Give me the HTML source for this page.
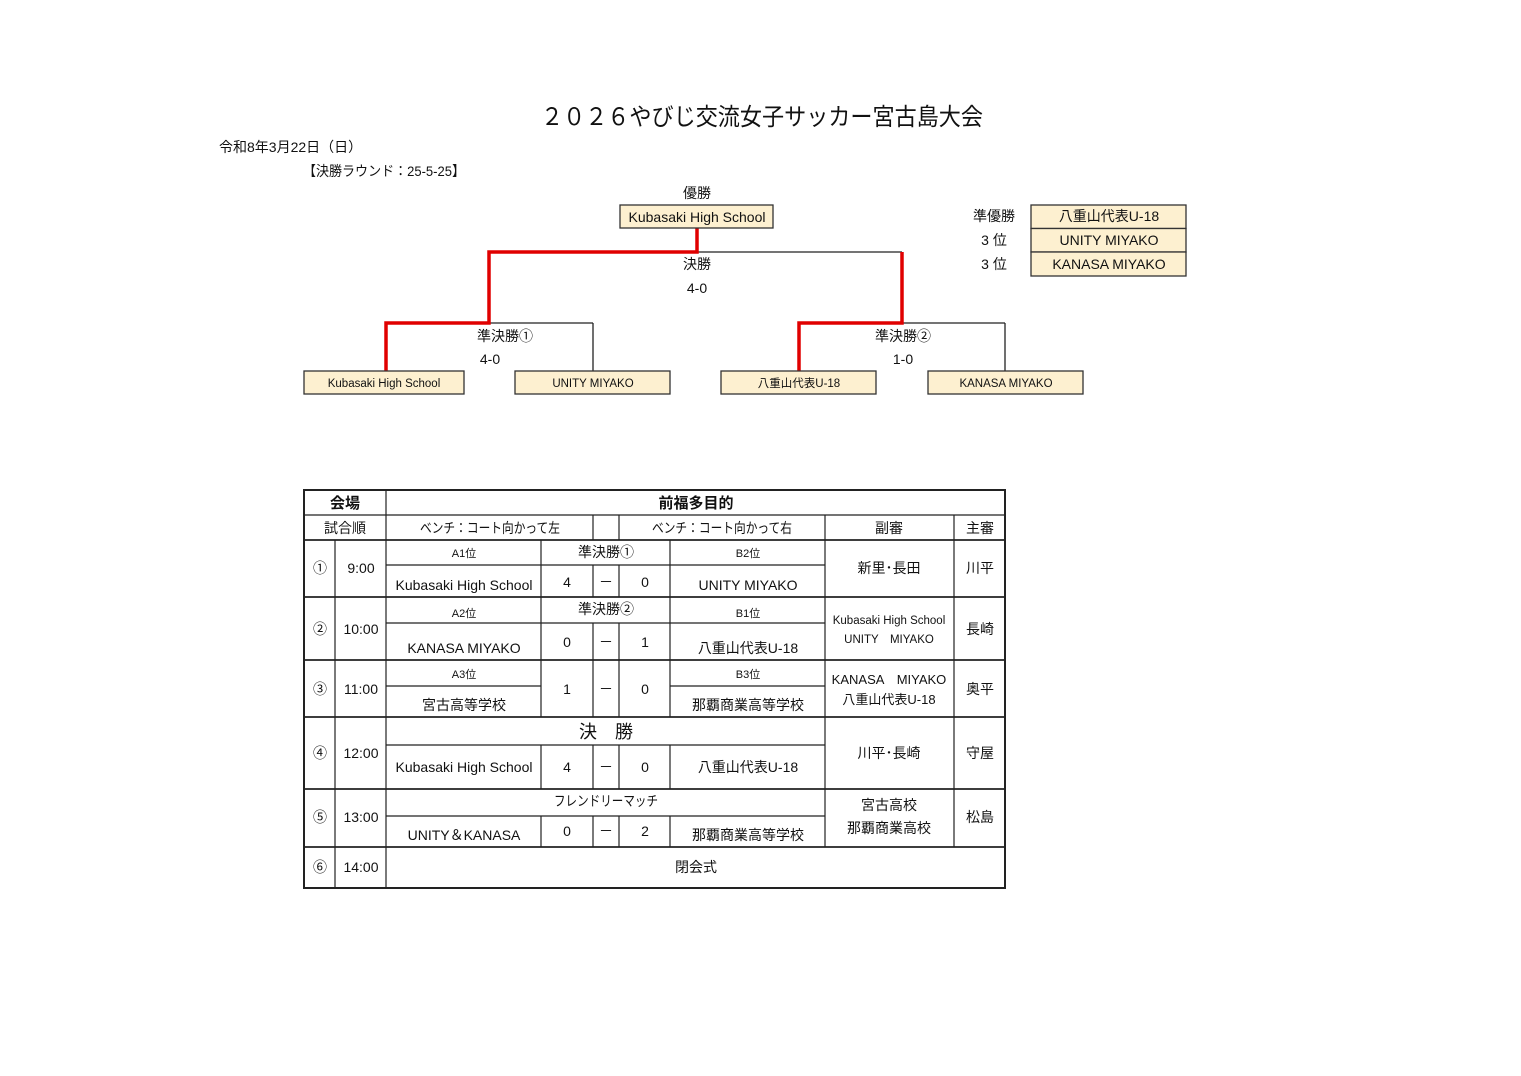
<!DOCTYPE html>
<html><head><meta charset="utf-8"><style>
html,body{margin:0;padding:0;background:#fff;width:1521px;height:1076px;overflow:hidden}
svg text{font-family:"Liberation Sans","Noto Sans CJK JP",sans-serif;fill:#111}
</style></head><body>
<svg width="1521" height="1076" viewBox="0 0 1521 1076" xmlns="http://www.w3.org/2000/svg">
<text x="541" y="125" font-size="24" textLength="442" lengthAdjust="spacingAndGlyphs">２０２６やびじ交流女子サッカー宮古島大会</text>
<text x="219" y="152" font-size="14">令和8年3月22日（日）</text>
<text x="303" y="176" font-size="14" textLength="162" lengthAdjust="spacingAndGlyphs">【決勝ラウンド：25-5-25】</text>

<g stroke="#222" stroke-width="1.3" fill="none">
<line x1="697" y1="252" x2="902" y2="252"/>
<line x1="489" y1="323" x2="593" y2="323"/>
<line x1="593" y1="323" x2="593" y2="371"/>
<line x1="902" y1="323" x2="1005" y2="323"/>
<line x1="1005" y1="323" x2="1005" y2="371"/>
</g>
<g stroke="#e00000" stroke-width="3.5" fill="none">
<polyline points="697,228 697,252 489,252 489,323 386,323 386,371"/>
<polyline points="902,252 902,323 799,323 799,371"/>
</g>
<g fill="#fdf0d0" stroke="#333" stroke-width="1.3">
<rect x="620" y="205" width="153" height="23"/>
<rect x="304" y="371" width="160" height="23"/>
<rect x="515" y="371" width="155" height="23"/>
<rect x="721" y="371" width="155" height="23"/>
<rect x="928" y="371" width="155" height="23"/>
<rect x="1031" y="205" width="155" height="23.5"/>
<rect x="1031" y="228.5" width="155" height="23.5"/>
<rect x="1031" y="252" width="155" height="24"/>
</g>
<g font-size="14" text-anchor="middle">
<text x="697" y="198">優勝</text>
<text x="697" y="222">Kubasaki High School</text>
<text x="697" y="269">決勝</text>
<text x="697" y="293">4-0</text>
<text x="505" y="341">準決勝①</text>
<text x="490" y="364">4-0</text>
<text x="903" y="341">準決勝②</text>
<text x="903" y="364">1-0</text>
<text x="994" y="221">準優勝</text>
<text x="994" y="245">3 位</text>
<text x="994" y="269">3 位</text>
<text x="1109" y="221">八重山代表U-18</text>
<text x="1109" y="245">UNITY MIYAKO</text>
<text x="1109" y="269">KANASA MIYAKO</text>
</g>
<g font-size="11.5" text-anchor="middle">
<text x="384" y="387">Kubasaki High School</text>
<text x="593" y="387">UNITY MIYAKO</text>
<text x="799" y="387">八重山代表U-18</text>
<text x="1006" y="387">KANASA MIYAKO</text>
</g>

<g stroke="#222" stroke-width="1.2" fill="none">
<rect x="304" y="490" width="701" height="398" stroke-width="2"/>
<line x1="304" y1="515" x2="1005" y2="515"/>
<line x1="304" y1="540" x2="1005" y2="540" stroke-width="1.8"/>
<line x1="304" y1="597" x2="1005" y2="597" stroke-width="1.8"/>
<line x1="304" y1="660" x2="1005" y2="660" stroke-width="1.8"/>
<line x1="304" y1="717" x2="1005" y2="717" stroke-width="1.8"/>
<line x1="304" y1="789" x2="1005" y2="789" stroke-width="1.8"/>
<line x1="304" y1="847" x2="1005" y2="847" stroke-width="1.8"/>
<line x1="386" y1="490" x2="386" y2="888"/>
<line x1="335" y1="540" x2="335" y2="888"/>
<line x1="825" y1="515" x2="825" y2="847"/>
<line x1="954" y1="515" x2="954" y2="847"/>
<line x1="593" y1="515" x2="593" y2="540"/>
<line x1="619" y1="515" x2="619" y2="540"/>
<line x1="386" y1="565" x2="825" y2="565"/>
<line x1="541" y1="540" x2="541" y2="597"/>
<line x1="670" y1="540" x2="670" y2="597"/>
<line x1="593" y1="565" x2="593" y2="597"/>
<line x1="619" y1="565" x2="619" y2="597"/>
<line x1="386" y1="623" x2="825" y2="623"/>
<line x1="541" y1="597" x2="541" y2="660"/>
<line x1="670" y1="597" x2="670" y2="660"/>
<line x1="593" y1="623" x2="593" y2="660"/>
<line x1="619" y1="623" x2="619" y2="660"/>
<line x1="386" y1="686" x2="541" y2="686"/>
<line x1="670" y1="686" x2="825" y2="686"/>
<line x1="541" y1="660" x2="541" y2="717"/>
<line x1="670" y1="660" x2="670" y2="717"/>
<line x1="593" y1="660" x2="593" y2="717"/>
<line x1="619" y1="660" x2="619" y2="717"/>
<line x1="386" y1="745" x2="825" y2="745"/>
<line x1="541" y1="745" x2="541" y2="789"/>
<line x1="593" y1="745" x2="593" y2="789"/>
<line x1="619" y1="745" x2="619" y2="789"/>
<line x1="670" y1="745" x2="670" y2="789"/>
<line x1="386" y1="816" x2="825" y2="816"/>
<line x1="541" y1="816" x2="541" y2="847"/>
<line x1="593" y1="816" x2="593" y2="847"/>
<line x1="619" y1="816" x2="619" y2="847"/>
<line x1="670" y1="816" x2="670" y2="847"/>
</g>
<g font-size="14" text-anchor="middle">
<text x="345" y="508" font-weight="bold" font-size="15">会場</text>
<text x="696" y="508" font-weight="bold" font-size="15">前福多目的</text>
<text x="345" y="533">試合順</text>
<text x="490" y="533" textLength="140" lengthAdjust="spacingAndGlyphs">ベンチ：コート向かって左</text>
<text x="722" y="533" textLength="140" lengthAdjust="spacingAndGlyphs">ベンチ：コート向かって右</text>
<text x="889" y="533">副審</text>
<text x="980" y="533">主審</text>

<text x="320" y="573">①</text><text x="361" y="573">9:00</text>
<text x="464" y="557" font-size="11">A1位</text>
<text x="606" y="557">準決勝①</text>
<text x="748" y="557" font-size="11">B2位</text>
<text x="464" y="590">Kubasaki High School</text>
<text x="567" y="587">4</text><text x="606" y="587">－</text><text x="645" y="587">0</text>
<text x="748" y="590">UNITY MIYAKO</text>
<text x="889" y="573">新里･長田</text>
<text x="980" y="573">川平</text>

<text x="320" y="634">②</text><text x="361" y="634">10:00</text>
<text x="464" y="617" font-size="11">A2位</text>
<text x="606" y="614">準決勝②</text>
<text x="748" y="617" font-size="11">B1位</text>
<text x="464" y="653">KANASA MIYAKO</text>
<text x="567" y="647">0</text><text x="606" y="647">－</text><text x="645" y="647">1</text>
<text x="748" y="653">八重山代表U-18</text>
<text x="889" y="624" font-size="11.5">Kubasaki High School</text>
<text x="889" y="643" font-size="11.5">UNITY　MIYAKO</text>
<text x="980" y="634">長崎</text>

<text x="320" y="694">③</text><text x="361" y="694">11:00</text>
<text x="464" y="678" font-size="11">A3位</text>
<text x="748" y="678" font-size="11">B3位</text>
<text x="464" y="710">宮古高等学校</text>
<text x="567" y="694">1</text><text x="606" y="694">－</text><text x="645" y="694">0</text>
<text x="748" y="710">那覇商業高等学校</text>
<text x="889" y="684" font-size="13">KANASA　MIYAKO</text>
<text x="889" y="704" font-size="13">八重山代表U-18</text>
<text x="980" y="694">奥平</text>

<text x="320" y="758">④</text><text x="361" y="758">12:00</text>
<text x="606" y="738" font-size="18">決　勝</text>
<text x="464" y="772">Kubasaki High School</text>
<text x="567" y="772">4</text><text x="606" y="772">－</text><text x="645" y="772">0</text>
<text x="748" y="772">八重山代表U-18</text>
<text x="889" y="758">川平･長崎</text>
<text x="980" y="758">守屋</text>

<text x="320" y="822">⑤</text><text x="361" y="822">13:00</text>
<text x="606" y="806" textLength="104" lengthAdjust="spacingAndGlyphs">フレンドリーマッチ</text>
<text x="464" y="840">UNITY＆KANASA</text>
<text x="567" y="836">0</text><text x="606" y="836">－</text><text x="645" y="836">2</text>
<text x="748" y="840">那覇商業高等学校</text>
<text x="889" y="810">宮古高校</text>
<text x="889" y="833">那覇商業高校</text>
<text x="980" y="822">松島</text>

<text x="320" y="872">⑥</text><text x="361" y="872">14:00</text>
<text x="696" y="872">閉会式</text>
</g>
</svg>
</body></html>
